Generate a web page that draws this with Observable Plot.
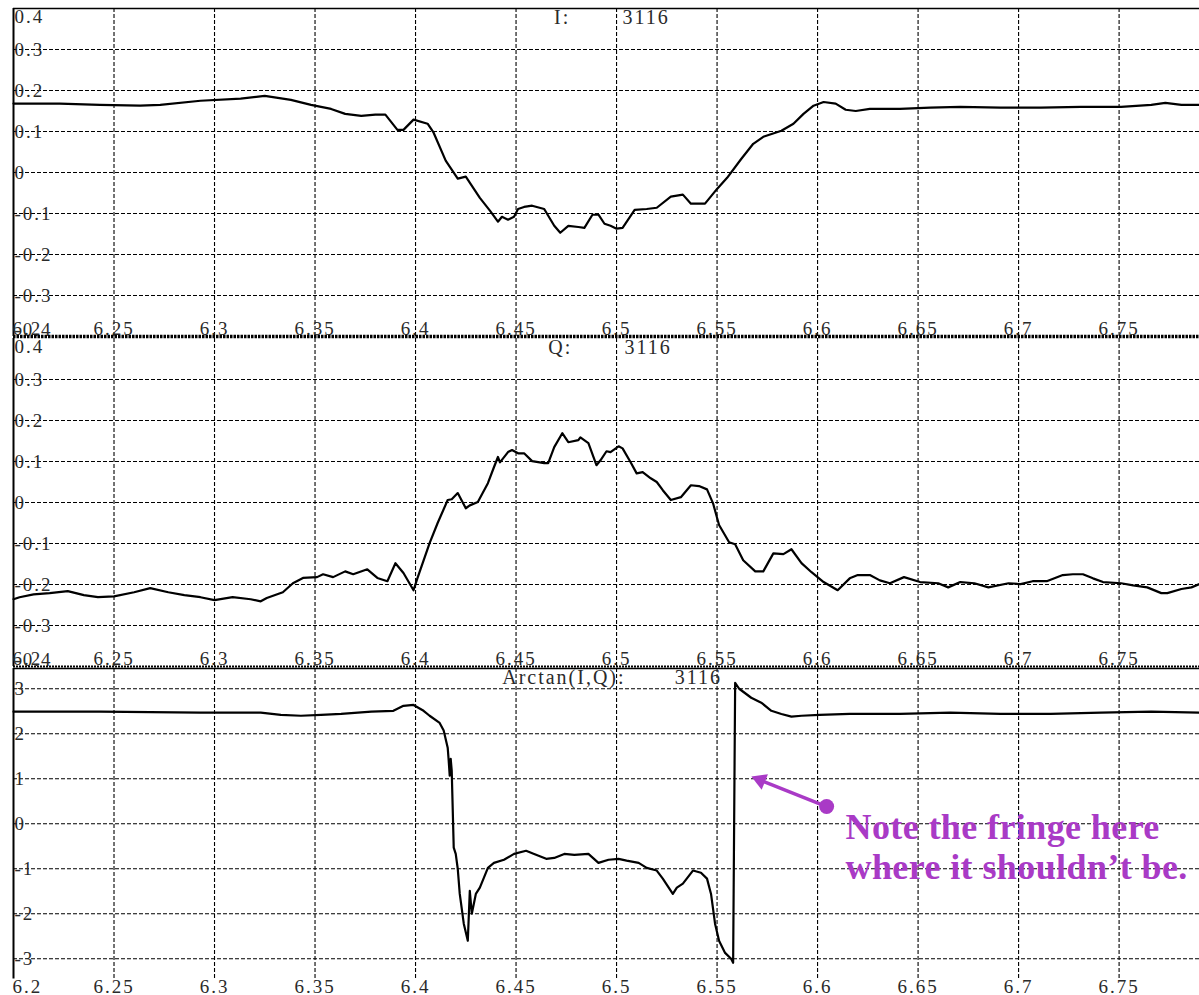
<!DOCTYPE html>
<html><head><meta charset="utf-8">
<script src="https://cdn.jsdelivr.net/npm/d3@7"></script>
<script src="https://cdn.jsdelivr.net/npm/@observablehq/plot@0.6"></script>
<style>
body{margin:0;background:#fff;}
#wrap{position:relative;width:1199px;height:995px;overflow:hidden;background:#fff;}
</style></head><body><div id="wrap"></div>
<script>
// ---- data ----
const xTicks = [6.2, 6.25, 6.3, 6.35, 6.4, 6.45, 6.5, 6.55, 6.6, 6.65, 6.7, 6.75];
const xTickLabels = ["6.2","6.25","6.3","6.35","6.4","6.45","6.5","6.55","6.6","6.65","6.7","6.75"];
const iqTicks = [0.4, 0.3, 0.2, 0.1, 0, -0.1, -0.2, -0.3, -0.4];
const iqTickLabels = ["0.4","0.3","0.2","0.1","0","-0.1","-0.2","-0.3","-0.4"];
const phaseTicks = [3, 2, 1, 0, -1, -2, -3];
const phaseTickLabels = ["3","2","1","0","-1","-2","-3"];
const titles = ["I:", "Q:", "Arctan(I,Q):"];
const frameNumber = "3116";

const timeI = [6.200,6.223,6.243,6.263,6.273,6.293,6.313,6.325,6.338,6.348,6.358,6.365,6.373,6.380,6.385,6.391,6.394,6.399,6.406,6.409,6.415,6.421,6.425,6.432,6.437,6.441,6.443,6.446,6.449,6.451,6.454,6.458,6.464,6.469,6.472,6.476,6.481,6.484,6.488,6.491,6.494,6.497,6.500,6.503,6.509,6.515,6.520,6.527,6.533,6.537,6.544,6.550,6.555,6.562,6.568,6.573,6.582,6.588,6.593,6.598,6.603,6.609,6.614,6.619,6.626,6.641,6.656,6.671,6.691,6.711,6.731,6.751,6.766,6.773,6.781,6.790];
const valueI = [0.168,0.168,0.165,0.163,0.165,0.175,0.180,0.187,0.177,0.165,0.155,0.143,0.138,0.141,0.141,0.104,0.104,0.129,0.119,0.097,0.029,-0.015,-0.010,-0.062,-0.093,-0.120,-0.108,-0.115,-0.108,-0.089,-0.084,-0.081,-0.089,-0.130,-0.147,-0.130,-0.133,-0.135,-0.103,-0.103,-0.125,-0.130,-0.137,-0.135,-0.091,-0.089,-0.086,-0.059,-0.054,-0.076,-0.076,-0.040,-0.013,0.033,0.070,0.087,0.102,0.119,0.143,0.163,0.172,0.168,0.153,0.150,0.155,0.155,0.158,0.160,0.158,0.158,0.160,0.160,0.165,0.170,0.165,0.165];

const timeQ = [6.200,6.203,6.210,6.218,6.227,6.235,6.242,6.250,6.260,6.268,6.277,6.285,6.293,6.300,6.309,6.318,6.323,6.326,6.334,6.339,6.344,6.351,6.354,6.359,6.365,6.369,6.376,6.381,6.386,6.390,6.394,6.399,6.401,6.407,6.411,6.416,6.418,6.421,6.425,6.427,6.431,6.436,6.439,6.441,6.442,6.446,6.448,6.451,6.454,6.458,6.464,6.466,6.469,6.473,6.476,6.481,6.482,6.486,6.490,6.492,6.495,6.497,6.501,6.503,6.507,6.510,6.513,6.517,6.520,6.523,6.527,6.532,6.537,6.541,6.545,6.548,6.551,6.556,6.559,6.563,6.569,6.573,6.578,6.583,6.587,6.592,6.597,6.603,6.610,6.616,6.620,6.626,6.631,6.636,6.643,6.651,6.660,6.665,6.671,6.678,6.685,6.695,6.701,6.707,6.714,6.722,6.727,6.732,6.737,6.742,6.751,6.757,6.764,6.771,6.774,6.781,6.786,6.790];
const valueQ = [-0.236,-0.231,-0.224,-0.221,-0.216,-0.226,-0.231,-0.229,-0.219,-0.209,-0.219,-0.226,-0.231,-0.238,-0.231,-0.236,-0.241,-0.233,-0.219,-0.197,-0.184,-0.182,-0.175,-0.182,-0.168,-0.175,-0.163,-0.184,-0.192,-0.148,-0.172,-0.214,-0.184,-0.099,-0.050,0.006,0.008,0.023,-0.014,-0.007,0.001,0.047,0.086,0.111,0.098,0.123,0.128,0.120,0.120,0.101,0.096,0.096,0.135,0.169,0.147,0.152,0.159,0.145,0.091,0.103,0.125,0.123,0.137,0.132,0.098,0.071,0.074,0.059,0.050,0.030,0.006,0.013,0.042,0.040,0.032,-0.002,-0.055,-0.097,-0.102,-0.141,-0.168,-0.168,-0.124,-0.126,-0.114,-0.148,-0.170,-0.194,-0.214,-0.185,-0.177,-0.177,-0.190,-0.197,-0.182,-0.194,-0.197,-0.207,-0.194,-0.197,-0.207,-0.197,-0.199,-0.192,-0.192,-0.177,-0.175,-0.175,-0.185,-0.194,-0.197,-0.202,-0.207,-0.221,-0.221,-0.211,-0.207,-0.199];

const timePhase = [6.200,6.243,6.293,6.323,6.333,6.343,6.353,6.363,6.378,6.389,6.394,6.399,6.404,6.407,6.412,6.414,6.416,6.4165,6.417,6.4175,6.418,6.419,6.420,6.421,6.422,6.424,6.426,6.427,6.428,6.430,6.432,6.436,6.439,6.444,6.449,6.455,6.459,6.465,6.469,6.474,6.479,6.486,6.491,6.496,6.501,6.505,6.511,6.515,6.520,6.523,6.528,6.530,6.533,6.538,6.542,6.545,6.547,6.549,6.551,6.554,6.557,6.558,6.559,6.561,6.567,6.572,6.577,6.582,6.587,6.592,6.601,6.616,6.641,6.666,6.691,6.716,6.741,6.766,6.790];
const valuePhase = [2.49,2.49,2.47,2.47,2.42,2.40,2.42,2.44,2.49,2.51,2.62,2.64,2.51,2.40,2.24,2.07,1.69,1.40,1.07,1.44,1.18,-0.53,-0.67,-1.00,-1.56,-2.22,-2.60,-1.49,-2.00,-1.56,-1.42,-0.98,-0.87,-0.80,-0.67,-0.60,-0.67,-0.78,-0.76,-0.67,-0.69,-0.67,-0.87,-0.80,-0.78,-0.82,-0.87,-0.98,-1.04,-1.22,-1.56,-1.42,-1.33,-1.04,-1.09,-1.22,-1.56,-2.22,-2.60,-2.87,-3.00,-3.09,3.13,3.00,2.80,2.69,2.51,2.44,2.38,2.40,2.42,2.44,2.44,2.47,2.44,2.44,2.47,2.49,2.47];

// annotation (data coordinates of the phase panel)
const noteText = ["Note the fringe here", "where it shouldn\u2019t be."];
const noteDot = [6.6045, 0.383];
const noteTip = [6.5657, 1.072];
const noteTextAt = [6.6139, 0.286];
const noteColor = "#a93ac6";

// ---- drawing ----
const FONT = "'Liberation Serif', 'Times New Roman', serif";
const XDOM = [6.2, 6.79];
const grid = {stroke: "black", strokeWidth: 1.1, strokeDasharray: "4,2"};
const wrap = document.getElementById("wrap");

function pairs(ts, vs) { return ts.map((t, i) => ({t, v: vs[i]})); }
const ticksX = xTicks.map((t, i) => ({t, label: xTickLabels[i]}));

function panel({top, data, yDomain, yTicks, yLabels, title, titleEnd, numStart, marginTop, marginBottom, height, extra, xLabelBottom}) {
  const yT = yTicks.map((v, i) => ({v, label: yLabels[i]}));
  const yMax = yDomain[1], yMin = yDomain[0];
  const marks = [
    Plot.ruleY(yTicks.filter(v => v < yMax && v > yMin), grid),
    Plot.ruleX(xTicks.filter(t => t > 6.2), grid),
    Plot.ruleX([6.2], {stroke: "black", strokeWidth: 2}),
    // y labels
    Plot.text(yT.filter(d => d.v < yMax && d.v > yMin), {x: () => 6.2, y: "v", text: "label", textAnchor: "start", dx: 1, lineAnchor: "middle"}),
    Plot.text(yT.filter(d => d.v >= yMax), {x: () => 6.2, y: "v", text: "label", textAnchor: "start", dx: 1, lineAnchor: "top", dy: 1}),
    Plot.text(yT.filter(d => d.v <= yMin), {x: () => 6.2, y: "v", text: "label", textAnchor: "start", dx: 1, lineAnchor: "bottom", dy: -1}),
    // x labels
    Plot.text(ticksX.filter(d => d.t > 6.2), {x: "t", text: "label", frameAnchor: "bottom", textAnchor: "middle",
      lineAnchor: xLabelBottom ? "middle" : "bottom", dy: xLabelBottom ? 8 : -2}),
    Plot.text(ticksX.filter(d => d.t <= 6.2), {x: "t", text: "label", frameAnchor: "bottom", textAnchor: "start", dx: -1,
      lineAnchor: xLabelBottom ? "middle" : "bottom", dy: xLabelBottom ? 8 : -2}),
    // title
    Plot.text([title], {x: () => titleEnd, frameAnchor: "top", text: d => d, textAnchor: "end", lineAnchor: "top", dy: 1, fontSize: 20}),
    Plot.text([frameNumber], {x: () => numStart, frameAnchor: "top", text: d => d, textAnchor: "start", lineAnchor: "top", dy: 1, fontSize: 20}),
    // series
    Plot.line(data, {x: "t", y: "v", stroke: "black", strokeWidth: 2.2, strokeLinejoin: "round"}),
    ...extra
  ];
  const svg = Plot.plot({
    width: 1199, height, marginTop, marginBottom, marginLeft: 13, marginRight: 0,
    x: {domain: XDOM, axis: null},
    y: {domain: yDomain, axis: null},
    style: {fontFamily: FONT, fontSize: "19px", letterSpacing: "2px", color: "#2a2a2a", background: "transparent", overflow: "visible"},
    marks
  });
  svg.style.position = "absolute";
  svg.style.top = top + "px";
  svg.style.left = "0px";
  svg.style.maxWidth = "none";
  // annotation text uses normal spacing
  d3.select(svg).selectAll(`g[fill="${noteColor}"]`).style("letter-spacing", "0.4px");
  wrap.appendChild(svg);
}

panel({top: 0, data: pairs(timeI, valueI), yDomain: [-0.4, 0.4], yTicks: iqTicks, yLabels: iqTickLabels,
  title: titles[0], titleEnd: 6.477, numStart: 6.503, marginTop: 8, marginBottom: 0, height: 336,
  extra: [
    Plot.ruleY([0.4], {stroke: "black", strokeWidth: 1.5}),
    Plot.ruleY([-0.4], {stroke: "black", strokeWidth: 3.5, strokeDasharray: "2.5,1"})
  ]});

panel({top: 330, data: pairs(timeQ, valueQ), yDomain: [-0.4, 0.4], yTicks: iqTicks, yLabels: iqTickLabels,
  title: titles[1], titleEnd: 6.478, numStart: 6.504, marginTop: 8, marginBottom: 0, height: 336,
  extra: [
    Plot.ruleY([-0.4], {stroke: "black", strokeWidth: 2, strokeDasharray: "2,1"})
  ]});

const triCenter = [noteTip[0] + 0.15 * (noteDot[0] - noteTip[0]), noteTip[1] + 0.15 * (noteDot[1] - noteTip[1])];
panel({top: 660, data: pairs(timePhase, valuePhase), yDomain: [-3.45, 3.45], yTicks: phaseTicks, yLabels: phaseTickLabels,
  title: titles[2], titleEnd: 6.5045, numStart: 6.529, marginTop: 8, marginBottom: 16.5, height: 335, xLabelBottom: true,
  extra: [
    Plot.ruleY([3.45], {stroke: "black", strokeWidth: 1.5}),
    Plot.link([{a: noteDot, b: triCenter}], {x1: d => d.a[0], y1: d => d.a[1], x2: d => d.b[0], y2: d => d.b[1], stroke: noteColor, strokeWidth: 3.5}),
    Plot.dot([noteDot], {x: d => d[0], y: d => d[1], r: 7.5, fill: noteColor}),
    Plot.dot([triCenter], {x: d => d[0], y: d => d[1], r: 8, symbol: "triangle2", fill: noteColor, rotate: -68}),
    Plot.text([noteText.join("\n")], {x: () => noteTextAt[0], y: () => noteTextAt[1], text: d => d, textAnchor: "start", lineAnchor: "top",
      fill: noteColor, fontSize: 36, fontWeight: "bold", lineHeight: 1.11})
  ]});
</script></body></html>
